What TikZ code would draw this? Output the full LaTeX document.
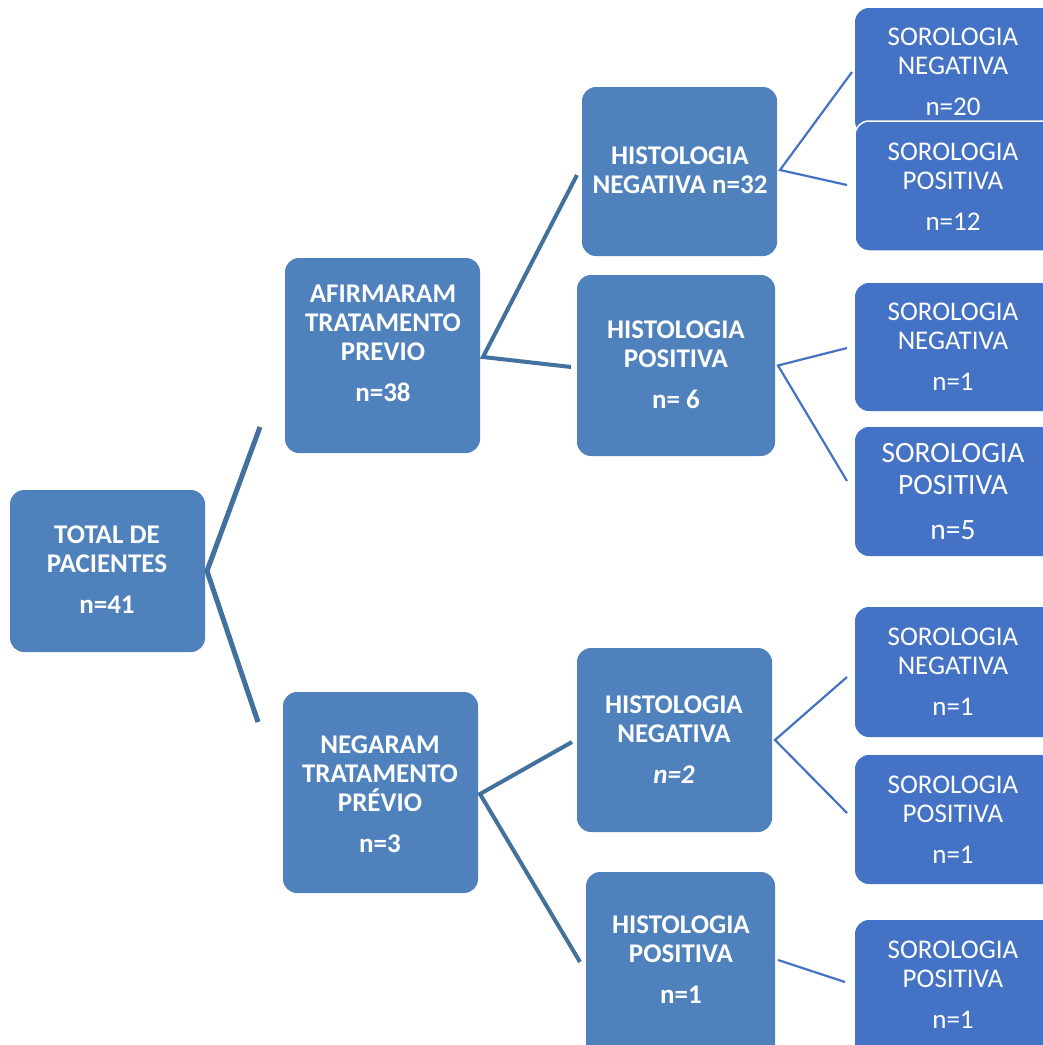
\documentclass[tikz,border=0pt]{standalone}
\usepackage{fontspec}
\setmainfont{Carlito}
\definecolor{boxAc}{HTML}{4F81BD}
\definecolor{boxBc}{HTML}{4472C4}
\definecolor{lineAc}{HTML}{41719C}
\definecolor{lineBc}{HTML}{4472C4}
\begin{document}
\begin{tikzpicture}[x=1pt,y=-1pt,
  boxA/.style={fill=boxAc, rounded corners=14pt, inner sep=0pt, outer sep=0pt},
  boxB/.style={fill=boxBc, rounded corners=14pt, inner sep=0pt, outer sep=0pt},
  boldtxt/.style={text=white, align=center, inner sep=0pt, font=\fontsize{27}{29}\selectfont\bfseries},
  regtxt/.style={text=white, align=center, inner sep=0pt, font=\fontsize{27}{29}\selectfont},
  bigtxt/.style={text=white, align=center, inner sep=0pt, font=\fontsize{29.5}{32}\selectfont},
  linkA/.style={draw=lineAc, line width=5pt},
  linkB/.style={draw=lineAc, line width=4pt},
  linkC/.style={draw=lineBc, line width=2.2pt}]
\useasboundingbox (0,0) rectangle (1043,1045);
\clip (0,0) rectangle (1043,1045);

% level 1 and 2
\node[boxA, minimum width=195pt, minimum height=162pt] (tot) at (107.5,571) {};
\node[boxA, minimum width=195pt, minimum height=195pt] (afi) at (382.5,355.5) {};
\node[boxA, minimum width=195pt, minimum height=201pt] (neg) at (380.5,792.5) {};
% level 3
\node[boxA, minimum width=195pt, minimum height=169pt] (hn32) at (679.5,171.5) {};
\node[boxA, minimum width=198pt, minimum height=181pt] (hp6) at (676,365.5) {};
\node[boxA, minimum width=195pt, minimum height=184pt] (hn2) at (674.5,740) {};
\node[boxA, minimum width=189pt, minimum height=193pt] (hp1) at (680.5,968.5) {};
% level 4
\node[boxB, minimum width=215pt, minimum height=127pt] (s1) at (962.5,71.5) {};
\node[boxB, draw=white, line width=1.5pt, minimum width=215pt, minimum height=130pt] (s2) at (962.5,186) {};
\node[boxB, minimum width=215pt, minimum height=128pt] (s3) at (962.5,347) {};
\node[boxB, minimum width=215pt, minimum height=129pt] (s4) at (962.5,491.5) {};
\node[boxB, minimum width=215pt, minimum height=130pt] (s5) at (962.5,672) {};
\node[boxB, minimum width=215pt, minimum height=129pt] (s6) at (962.5,819.5) {};
\node[boxB, minimum width=215pt, minimum height=155pt] (s7) at (962.5,997.5) {};

% texts
\node[boldtxt] (tott) at (107,570) {TOTAL DE\\PACIENTES\\[12pt]n=41};
\node[boldtxt] (afit) at (383,343) {AFIRMARAM\\TRATAMENTO\\PREVIO\\[12pt]n=38};
\node[boldtxt] (negt) at (380,794) {NEGARAM\\TRATAMENTO\\PRÉVIO\\[12pt]n=3};
\node[boldtxt] (hn32t) at (680,170) {HISTOLOGIA\\NEGATIVA n=32};
\node[boldtxt] (hp6t) at (676,365) {HISTOLOGIA\\POSITIVA\\[12pt]n= 6};
\node[boldtxt] (hn2t) at (674,740) {HISTOLOGIA\\NEGATIVA\\[12pt]\textit{n=2}};
\node[boldtxt] (hp1t) at (681,960) {HISTOLOGIA\\POSITIVA\\[12pt]n=1};
\node[regtxt] (s1t) at (953,72) {SOROLOGIA\\NEGATIVA\\[12pt]n=20};
\node[regtxt] (s2t) at (953,187) {SOROLOGIA\\POSITIVA\\[12pt]n=12};
\node[regtxt] (s3t) at (953,347) {SOROLOGIA\\NEGATIVA\\[12pt]n=1};
\node[bigtxt] (s4t) at (953,492) {SOROLOGIA\\POSITIVA\\[13pt]n=5};
\node[regtxt] (s5t) at (953,672) {SOROLOGIA\\NEGATIVA\\[12pt]n=1};
\node[regtxt] (s6t) at (953,820) {SOROLOGIA\\POSITIVA\\[12pt]n=1};
\node[regtxt] (s7t) at (953,985) {SOROLOGIA\\POSITIVA\\[12pt]n=1};

% free ends of connectors
\coordinate (c1) at (260,427);
\coordinate (c2) at (258,722);
\coordinate (c3) at (577,175);
\coordinate (c4) at (571,367);
\coordinate (c5) at (572,742);
\coordinate (c6) at (580,962);
\coordinate (c7) at (852,72);
\coordinate (c8) at (847,185);
\coordinate (c9) at (847,348);
\coordinate (c10) at (847,481);
\coordinate (c11) at (847,677);
\coordinate (c12) at (847,813);
\coordinate (c13) at (845,982);

% connectors
\draw[linkA] (c1) -- ([xshift=2pt]tot.east) -- (c2);
\draw[linkB] (c3) -- ([xshift=3pt,yshift=-1.5pt]afi.east) -- (c4);
\draw[linkB] (c5) -- ([xshift=2pt,yshift=-1.5pt]neg.east) -- (c6);
\draw[linkC] (c7) -- ([xshift=3pt,yshift=1.5pt]hn32.east) -- (c8);
\draw[linkC] (c9) -- ([xshift=3pt]hp6.east) -- (c10);
\draw[linkC] (c11) -- ([xshift=3pt]hn2.east) -- (c12);
\draw[linkC] ([xshift=3pt,yshift=8.5pt]hp1.east) -- (c13);
\end{tikzpicture}
\end{document}
